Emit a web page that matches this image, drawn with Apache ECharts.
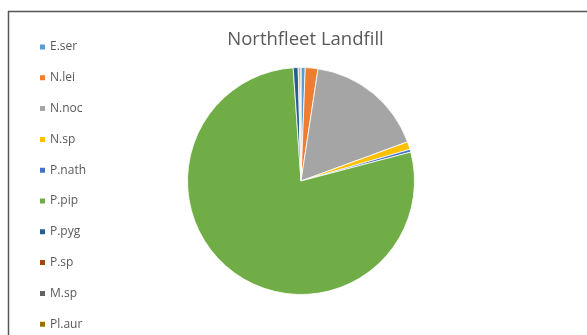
<!DOCTYPE html>
<html><head><meta charset="utf-8">
<script src="https://cdn.jsdelivr.net/npm/echarts@6/dist/echarts.min.js"></script>
<style>html,body{margin:0;padding:0;background:#fff}#c{width:587px;height:335px}</style>
</head><body><div id="c"></div>
<script>
const categories = ["E.ser","N.lei","N.noc","N.sp","P.nath","P.pip","P.pyg","P.sp","M.sp","Pl.aur"];
const values = [6, 18, 170, 11, 4, 780, 7, 1, 2, 1];
const colors = ["#5B9BD5","#ED7D31","#A5A5A5","#FFC000","#4472C4","#70AD47","#255E91","#9E480E","#636363","#997300"];
const titleText = "Northfleet Landfill";

const chart = echarts.init(document.getElementById('c'), null, {renderer:'canvas'});
chart.setOption({
  animation:false,
  color: colors,
  title:{text:titleText, left:300.5, top:25, textAlign:'center',
    textStyle:{fontFamily:'"Open Sans", sans-serif', fontWeight:'normal', fontSize:18.5, color:'#595959'}},
  legend:{orient:'vertical', left:38, top:40, height:300, padding:0, itemWidth:7, itemHeight:7, itemGap:16.8, icon:'rect',
    textStyle:{fontFamily:'"Open Sans", sans-serif', fontSize:12, color:'#595959', lineHeight:14, padding:[0,0,0,-1]},
    data: categories},
  graphic:[
    {type:'line', shape:{x1:8,y1:11.5,x2:587,y2:11.5}, style:{stroke:'#555', lineWidth:1.5}},
    {type:'line', shape:{x1:8.5,y1:11,x2:8.5,y2:335}, style:{stroke:'#555', lineWidth:1.5}}
  ],
  series:[{type:'pie', center:[301,181], radius:[0,113.5], startAngle:90, clockwise:true,
    label:{show:false}, labelLine:{show:false},
    itemStyle:{borderColor:'#fff', borderWidth:0.8},
    data: categories.map((n,i)=>({name:n, value:values[i]}))}]
});
</script></body></html>
